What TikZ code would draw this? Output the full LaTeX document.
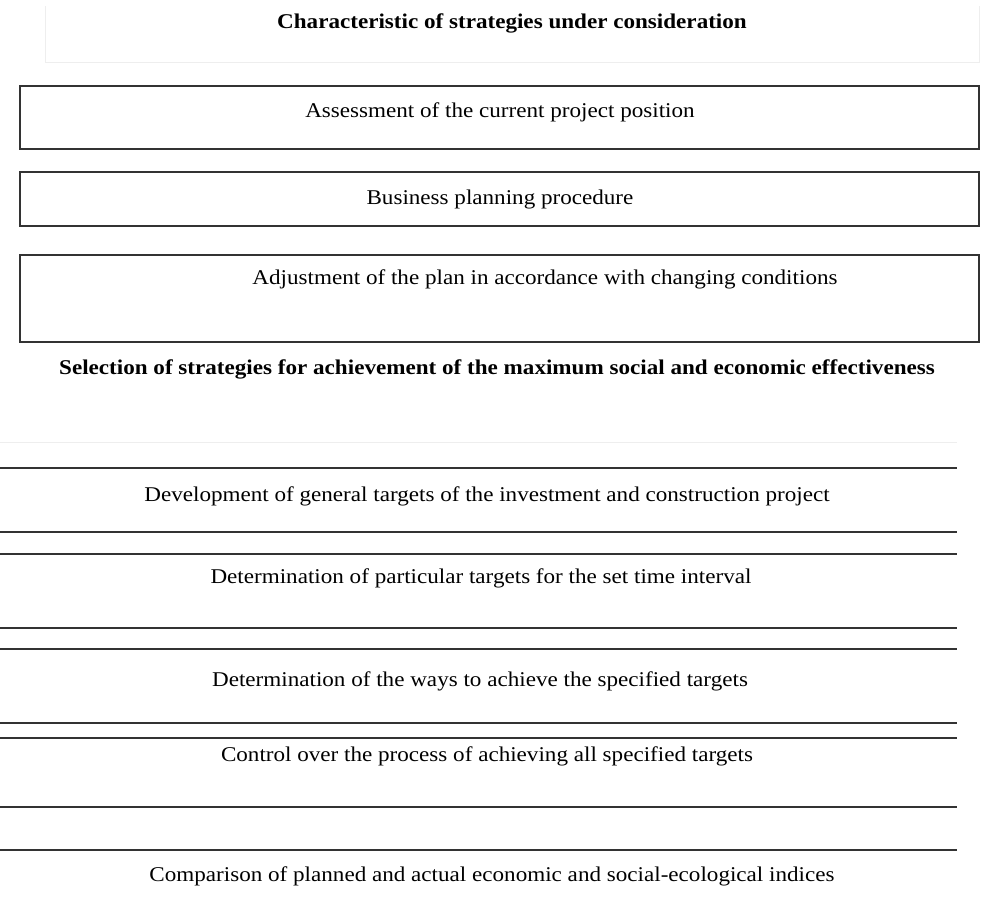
\documentclass[tikz,border=0pt]{standalone}
\usepackage{fontspec}
\setmainfont{Liberation Serif}[FakeStretch=1.1]
\definecolor{frame}{HTML}{333333}
\definecolor{faint}{HTML}{EEEEEE}
\tikzset{
  every picture/.style={x=1pt, y=-1pt, font=\fontsize{21}{25}\selectfont},
  boxline/.style={draw=frame, line width=1.3pt},
  rule/.style={frame, line width=1.4pt},
  ghost/.style={faint, line width=1pt},
  head/.style={font=\fontsize{21}{25}\selectfont\bfseries},
}
\def\xl{20}
\def\xr{979}
\def\xe{957}

\begin{document}
\begin{tikzpicture}
  \path[use as bounding box] (0,0) rectangle (981,920);
  % faint frame round the heading
  \draw[ghost] (45,6) -- (45,63) -- (979,63) -- (979,6);
  \node[head] (title) at (512,23) {Characteristic of strategies under consideration};
  % framed steps
  \draw[boxline] (\xl,86) rectangle (\xr,149);
  \node (assess) at (500,112) {Assessment of the current project position};
  \draw[boxline] (\xl,172) rectangle (\xr,226);
  \node (bizplan) at (500,199) {Business planning procedure};
  \draw[boxline] (\xl,255) rectangle (\xr,342);
  \node (adjust) at (545,279) {Adjustment of the plan in accordance with changing conditions};
  \node[head] (select) at (497,369) {Selection of strategies for achievement of the maximum social and economic effectiveness};
  % ruled steps
  \draw[ghost] (0,442) -- (\xe,442);
  \foreach \y in {468,532,554,628,649,723,738,807,850}
    \draw[rule] (0,\y) -- (\xe,\y);
  \node (general) at (487,496) {Development of general targets of the investment and construction project};
  \node (partic) at (481,578) {Determination of particular targets for the set time interval};
  \node (ways) at (480,681) {Determination of the ways to achieve the specified targets};
  \node (control) at (487,756) {Control over the process of achieving all specified targets};
  \node (compare) at (492,876) {Comparison of planned and actual economic and social-ecological indices};
\end{tikzpicture}
\end{document}
